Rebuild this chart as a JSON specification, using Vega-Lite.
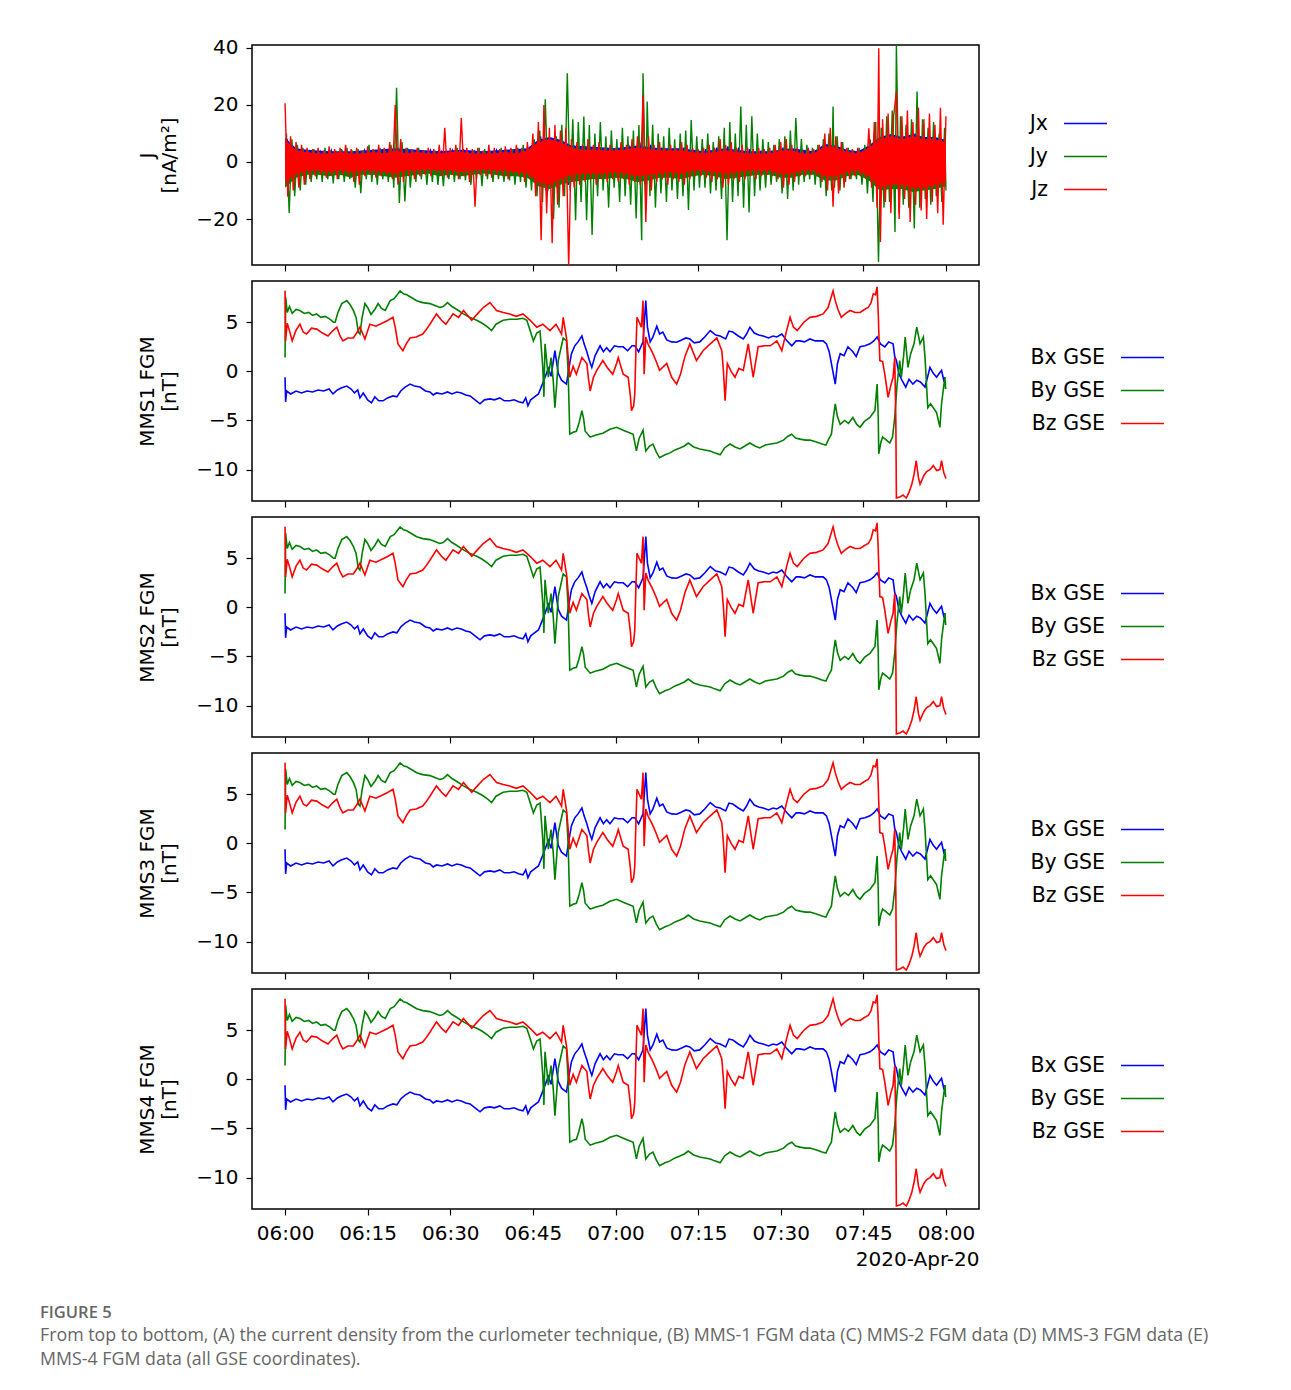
{
"$schema": "https://vega.github.io/schema/vega-lite/v6.json",
"background": "white",
"padding": {"left": 40, "top": 37, "right": 10, "bottom": 10},
"config": {
  "view": {"stroke": "#000", "strokeWidth": 1.5},
  "font": "DejaVu Sans",
  "axis": {"domain": false, "grid": false, "tickColor": "#000", "tickSize": 6, "tickWidth": 1.2, "labelFont": "DejaVu Sans", "labelFontSize": 20, "labelColor": "#000", "labelPadding": 8, "titleFont": "DejaVu Sans", "titleFontSize": 20, "titleFontWeight": "normal", "titleColor": "#000", "titlePadding": 16},
  "legend": {"labelFont": "DejaVu Sans", "labelFontSize": 20.5, "labelColor": "#000", "symbolType": "stroke", "symbolSize": 1849, "symbolStrokeWidth": 1.5, "labelAlign": "right", "labelOffset": -60, "rowPadding": -11},
  "concat": {"spacing": 7}
},
"title": {"text": "FIGURE 5", "subtitle": ["From top to bottom, (A) the current density from the curlometer technique, (B) MMS-1 FGM data (C) MMS-2 FGM data (D) MMS-3 FGM data (E)", "MMS-4 FGM data (all GSE coordinates)."], "orient": "bottom", "anchor": "start", "dx": -97, "offset": 35, "font": "Open Sans", "fontSize": 16.5, "fontWeight": 600, "color": "#666", "subtitleFont": "Open Sans", "subtitleFontSize": 17.8, "subtitleColor": "#666", "subtitleLineHeight": 24, "subtitlePadding": 6},
"resolve": {"scale": {"color": "independent"}, "legend": {"color": "independent"}},
"datasets": {
"curlband": [
{"t":0,"c":"Jx","lo":-5,"hi":8.5},{"t":2,"c":"Jx","lo":-2.5,"hi":4.8},{"t":4,"c":"Jx","lo":-2,"hi":4.3},{"t":8,"c":"Jx","lo":-2,"hi":3.8},{"t":12,"c":"Jx","lo":-2,"hi":3.8},{"t":16,"c":"Jx","lo":-2,"hi":4.3},{"t":20,"c":"Jx","lo":-2.5,"hi":4.8},{"t":24,"c":"Jx","lo":-2,"hi":4.3},{"t":28,"c":"Jx","lo":-2,"hi":3.8},{"t":32,"c":"Jx","lo":-2,"hi":4.3},{"t":36,"c":"Jx","lo":-2,"hi":3.8},{"t":40,"c":"Jx","lo":-2,"hi":4.3},{"t":44,"c":"Jx","lo":-2.5,"hi":4.8},{"t":46,"c":"Jx","lo":-5,"hi":7.8},{"t":48,"c":"Jx","lo":-6,"hi":8.8},{"t":50,"c":"Jx","lo":-5,"hi":7.8},{"t":52,"c":"Jx","lo":-3,"hi":5.8},{"t":56,"c":"Jx","lo":-3,"hi":5.3},{"t":60,"c":"Jx","lo":-2.5,"hi":4.8},{"t":64,"c":"Jx","lo":-3,"hi":5.8},{"t":68,"c":"Jx","lo":-2.5,"hi":4.8},{"t":72,"c":"Jx","lo":-2.5,"hi":4.8},{"t":76,"c":"Jx","lo":-2,"hi":3.8},{"t":80,"c":"Jx","lo":-2.5,"hi":4.8},{"t":84,"c":"Jx","lo":-2,"hi":3.8},{"t":88,"c":"Jx","lo":-2,"hi":3.8},{"t":92,"c":"Jx","lo":-2.5,"hi":4.8},{"t":96,"c":"Jx","lo":-2,"hi":3.8},{"t":98,"c":"Jx","lo":-3.5,"hi":6.3},{"t":100,"c":"Jx","lo":-3.5,"hi":5.8},{"t":102,"c":"Jx","lo":-2,"hi":4.3},{"t":104,"c":"Jx","lo":-2,"hi":3.8},{"t":106,"c":"Jx","lo":-3.5,"hi":5.8},{"t":108,"c":"Jx","lo":-6,"hi":8.8},{"t":110,"c":"Jx","lo":-6,"hi":9.8},{"t":112,"c":"Jx","lo":-6,"hi":8.8},{"t":114,"c":"Jx","lo":-6,"hi":9.8},{"t":116,"c":"Jx","lo":-6,"hi":8.8},{"t":118,"c":"Jx","lo":-6,"hi":8.8},{"t":120,"c":"Jx","lo":-5,"hi":7.8},
{"t":0,"c":"Jy","lo":-9,"hi":7},{"t":2,"c":"Jy","lo":-5.5,"hi":3},{"t":4,"c":"Jy","lo":-4.5,"hi":2.5},{"t":6,"c":"Jy","lo":-4.5,"hi":2},{"t":8,"c":"Jy","lo":-5,"hi":2},{"t":10,"c":"Jy","lo":-4.5,"hi":2.5},{"t":12,"c":"Jy","lo":-5.5,"hi":2},{"t":14,"c":"Jy","lo":-4.5,"hi":2},{"t":16,"c":"Jy","lo":-4.5,"hi":2.5},{"t":18,"c":"Jy","lo":-5,"hi":2},{"t":20,"c":"Jy","lo":-5.5,"hi":3},{"t":22,"c":"Jy","lo":-5,"hi":2},{"t":24,"c":"Jy","lo":-4.5,"hi":2.5},{"t":26,"c":"Jy","lo":-4,"hi":2},{"t":28,"c":"Jy","lo":-5,"hi":2},{"t":30,"c":"Jy","lo":-4.5,"hi":2.5},{"t":32,"c":"Jy","lo":-5,"hi":2.5},{"t":34,"c":"Jy","lo":-4.5,"hi":2},{"t":36,"c":"Jy","lo":-4,"hi":2},{"t":38,"c":"Jy","lo":-4.5,"hi":2},{"t":40,"c":"Jy","lo":-5,"hi":2.5},{"t":42,"c":"Jy","lo":-5,"hi":2},{"t":44,"c":"Jy","lo":-5.5,"hi":3},{"t":46,"c":"Jy","lo":-8.5,"hi":6},{"t":48,"c":"Jy","lo":-9.5,"hi":7},{"t":50,"c":"Jy","lo":-8,"hi":6.5},{"t":52,"c":"Jy","lo":-7,"hi":5},{"t":54,"c":"Jy","lo":-6.5,"hi":4.5},{"t":56,"c":"Jy","lo":-6,"hi":4},{"t":58,"c":"Jy","lo":-6,"hi":3.5},{"t":60,"c":"Jy","lo":-5.5,"hi":3.5},{"t":62,"c":"Jy","lo":-6,"hi":4},{"t":64,"c":"Jy","lo":-7,"hi":4.5},{"t":66,"c":"Jy","lo":-6.5,"hi":4},{"t":68,"c":"Jy","lo":-5.5,"hi":3.5},{"t":70,"c":"Jy","lo":-5.5,"hi":3},{"t":72,"c":"Jy","lo":-6,"hi":3.5},{"t":74,"c":"Jy","lo":-5,"hi":3},{"t":76,"c":"Jy","lo":-4.5,"hi":2.5},{"t":78,"c":"Jy","lo":-5,"hi":3},{"t":80,"c":"Jy","lo":-6,"hi":3.5},{"t":82,"c":"Jy","lo":-5.5,"hi":3},{"t":84,"c":"Jy","lo":-5,"hi":2.5},{"t":86,"c":"Jy","lo":-4.5,"hi":2.5},{"t":88,"c":"Jy","lo":-4.5,"hi":2},{"t":90,"c":"Jy","lo":-5.5,"hi":3},{"t":92,"c":"Jy","lo":-5.5,"hi":3},{"t":94,"c":"Jy","lo":-4.5,"hi":2},{"t":96,"c":"Jy","lo":-4.5,"hi":2.5},{"t":98,"c":"Jy","lo":-6.5,"hi":4.5},{"t":100,"c":"Jy","lo":-6.5,"hi":4},{"t":102,"c":"Jy","lo":-5,"hi":2.5},{"t":104,"c":"Jy","lo":-4.5,"hi":2},{"t":106,"c":"Jy","lo":-6.5,"hi":4},{"t":108,"c":"Jy","lo":-10,"hi":7},{"t":110,"c":"Jy","lo":-9.5,"hi":8},{"t":112,"c":"Jy","lo":-9.5,"hi":7},{"t":114,"c":"Jy","lo":-10.5,"hi":8},{"t":116,"c":"Jy","lo":-10,"hi":7},{"t":118,"c":"Jy","lo":-9.5,"hi":7},{"t":120,"c":"Jy","lo":-8.5,"hi":6},
{"t":0,"c":"Jz","lo":-7,"hi":8},{"t":2,"c":"Jz","lo":-4,"hi":4},{"t":4,"c":"Jz","lo":-3,"hi":3.5},{"t":6,"c":"Jz","lo":-3,"hi":3},{"t":8,"c":"Jz","lo":-3.5,"hi":3},{"t":10,"c":"Jz","lo":-3,"hi":3.5},{"t":12,"c":"Jz","lo":-3.5,"hi":3},{"t":14,"c":"Jz","lo":-3,"hi":3},{"t":16,"c":"Jz","lo":-3,"hi":3.5},{"t":18,"c":"Jz","lo":-3.5,"hi":3},{"t":20,"c":"Jz","lo":-4,"hi":4},{"t":22,"c":"Jz","lo":-3,"hi":3},{"t":24,"c":"Jz","lo":-3,"hi":3.5},{"t":26,"c":"Jz","lo":-2.5,"hi":3},{"t":28,"c":"Jz","lo":-3,"hi":3},{"t":30,"c":"Jz","lo":-3,"hi":3.5},{"t":32,"c":"Jz","lo":-3.5,"hi":3.5},{"t":34,"c":"Jz","lo":-3,"hi":3},{"t":36,"c":"Jz","lo":-2.5,"hi":3},{"t":38,"c":"Jz","lo":-3,"hi":3},{"t":40,"c":"Jz","lo":-3,"hi":3.5},{"t":42,"c":"Jz","lo":-3.5,"hi":3},{"t":44,"c":"Jz","lo":-4,"hi":4},{"t":46,"c":"Jz","lo":-7,"hi":7},{"t":48,"c":"Jz","lo":-8,"hi":8},{"t":50,"c":"Jz","lo":-6,"hi":7},{"t":52,"c":"Jz","lo":-4.5,"hi":5},{"t":54,"c":"Jz","lo":-4,"hi":4},{"t":56,"c":"Jz","lo":-4,"hi":4.5},{"t":58,"c":"Jz","lo":-4,"hi":4},{"t":60,"c":"Jz","lo":-3.5,"hi":4},{"t":62,"c":"Jz","lo":-4,"hi":4.5},{"t":64,"c":"Jz","lo":-5,"hi":5},{"t":66,"c":"Jz","lo":-4.5,"hi":4.5},{"t":68,"c":"Jz","lo":-4,"hi":4},{"t":70,"c":"Jz","lo":-3.5,"hi":4},{"t":72,"c":"Jz","lo":-4,"hi":4},{"t":74,"c":"Jz","lo":-3,"hi":3.5},{"t":76,"c":"Jz","lo":-3,"hi":3},{"t":78,"c":"Jz","lo":-3.5,"hi":3.5},{"t":80,"c":"Jz","lo":-4,"hi":4},{"t":82,"c":"Jz","lo":-3.5,"hi":3.5},{"t":84,"c":"Jz","lo":-3,"hi":3},{"t":86,"c":"Jz","lo":-3,"hi":3},{"t":88,"c":"Jz","lo":-3,"hi":3},{"t":90,"c":"Jz","lo":-4,"hi":4},{"t":92,"c":"Jz","lo":-4,"hi":4},{"t":94,"c":"Jz","lo":-3,"hi":3},{"t":96,"c":"Jz","lo":-3,"hi":3},{"t":98,"c":"Jz","lo":-5,"hi":5.5},{"t":100,"c":"Jz","lo":-5,"hi":5},{"t":102,"c":"Jz","lo":-3.5,"hi":3.5},{"t":104,"c":"Jz","lo":-3,"hi":3},{"t":106,"c":"Jz","lo":-5,"hi":5},{"t":108,"c":"Jz","lo":-9,"hi":8},{"t":110,"c":"Jz","lo":-8,"hi":9},{"t":112,"c":"Jz","lo":-8,"hi":8},{"t":114,"c":"Jz","lo":-9,"hi":9},{"t":116,"c":"Jz","lo":-9,"hi":8},{"t":118,"c":"Jz","lo":-8,"hi":8},{"t":120,"c":"Jz","lo":-7,"hi":7}
],
"curl": [
{"t":0.4,"c":"Jx","v":8},{"t":1.4,"c":"Jx","v":-6},{"t":2.4,"c":"Jx","v":4},{"t":3.4,"c":"Jx","v":-4},{"t":4.4,"c":"Jx","v":3.5},{"t":5.4,"c":"Jx","v":-3},{"t":6.4,"c":"Jx","v":3.5},{"t":7.4,"c":"Jx","v":-3.5},{"t":8.4,"c":"Jx","v":4},{"t":9.4,"c":"Jx","v":-3},{"t":10.4,"c":"Jx","v":3.5},{"t":11.4,"c":"Jx","v":-4},{"t":12.4,"c":"Jx","v":3},{"t":13.4,"c":"Jx","v":-3.5},{"t":14.4,"c":"Jx","v":4},{"t":15.4,"c":"Jx","v":-3},{"t":16.4,"c":"Jx","v":3.5},{"t":17.4,"c":"Jx","v":-3.5},{"t":18.4,"c":"Jx","v":4.5},{"t":19.4,"c":"Jx","v":-4},{"t":20.4,"c":"Jx","v":5},{"t":21.4,"c":"Jx","v":-5},{"t":22.4,"c":"Jx","v":4},{"t":23.4,"c":"Jx","v":-3.5},{"t":24.4,"c":"Jx","v":3.5},{"t":25.4,"c":"Jx","v":-3},{"t":26.4,"c":"Jx","v":4},{"t":27.4,"c":"Jx","v":-3.5},{"t":28.4,"c":"Jx","v":3.5},{"t":29.4,"c":"Jx","v":-3},{"t":30.4,"c":"Jx","v":4},{"t":31.4,"c":"Jx","v":-4},{"t":32.4,"c":"Jx","v":4.5},{"t":33.4,"c":"Jx","v":-3.5},{"t":34.4,"c":"Jx","v":3.5},{"t":35.4,"c":"Jx","v":-4},{"t":36.4,"c":"Jx","v":3},{"t":37.4,"c":"Jx","v":-3.5},{"t":38.4,"c":"Jx","v":4},{"t":39.4,"c":"Jx","v":-3},{"t":40.4,"c":"Jx","v":3.5},{"t":41.4,"c":"Jx","v":-4},{"t":42.4,"c":"Jx","v":4},{"t":43.4,"c":"Jx","v":-4.5},{"t":44.4,"c":"Jx","v":5},{"t":45.4,"c":"Jx","v":-7},{"t":46.4,"c":"Jx","v":9},{"t":47.4,"c":"Jx","v":-10},{"t":48.4,"c":"Jx","v":8},{"t":49.4,"c":"Jx","v":-9},{"t":50.4,"c":"Jx","v":7},{"t":51.4,"c":"Jx","v":-8},{"t":52.4,"c":"Jx","v":6},{"t":53.4,"c":"Jx","v":-6},{"t":54.4,"c":"Jx","v":5.5},{"t":55.4,"c":"Jx","v":-5},{"t":56.4,"c":"Jx","v":5},{"t":57.4,"c":"Jx","v":-5.5},{"t":58.4,"c":"Jx","v":5},{"t":59.4,"c":"Jx","v":-4.5},{"t":60.4,"c":"Jx","v":5},{"t":61.4,"c":"Jx","v":-5},{"t":62.4,"c":"Jx","v":6},{"t":63.4,"c":"Jx","v":-5},{"t":64.4,"c":"Jx","v":7},{"t":65.4,"c":"Jx","v":-8},{"t":66.4,"c":"Jx","v":6},{"t":67.4,"c":"Jx","v":-5},{"t":68.4,"c":"Jx","v":5},{"t":69.4,"c":"Jx","v":-4.5},{"t":70.4,"c":"Jx","v":4.5},{"t":71.4,"c":"Jx","v":-5},{"t":72.4,"c":"Jx","v":5},{"t":73.4,"c":"Jx","v":-4.5},{"t":74.4,"c":"Jx","v":4},{"t":75.4,"c":"Jx","v":-4},{"t":76.4,"c":"Jx","v":4.5},{"t":77.4,"c":"Jx","v":-4.5},{"t":78.4,"c":"Jx","v":5},{"t":79.4,"c":"Jx","v":-5},{"t":80.4,"c":"Jx","v":5.5},{"t":81.4,"c":"Jx","v":-4.5},{"t":82.4,"c":"Jx","v":5},{"t":83.4,"c":"Jx","v":-4},{"t":84.4,"c":"Jx","v":4.5},{"t":85.4,"c":"Jx","v":-4},{"t":86.4,"c":"Jx","v":4},{"t":87.4,"c":"Jx","v":-3.5},{"t":88.4,"c":"Jx","v":4},{"t":89.4,"c":"Jx","v":-4},{"t":90.4,"c":"Jx","v":5},{"t":91.4,"c":"Jx","v":-5},{"t":92.4,"c":"Jx","v":4.5},{"t":93.4,"c":"Jx","v":-4},{"t":94.4,"c":"Jx","v":3.5},{"t":95.4,"c":"Jx","v":-3.5},{"t":96.4,"c":"Jx","v":4},{"t":97.4,"c":"Jx","v":-4.5},{"t":98.4,"c":"Jx","v":6},{"t":99.4,"c":"Jx","v":-6},{"t":100.4,"c":"Jx","v":5},{"t":101.4,"c":"Jx","v":-5},{"t":102.4,"c":"Jx","v":4},{"t":103.4,"c":"Jx","v":-3.5},{"t":104.4,"c":"Jx","v":4},{"t":105.4,"c":"Jx","v":-4},{"t":106.4,"c":"Jx","v":6},{"t":107.4,"c":"Jx","v":-8},{"t":108.4,"c":"Jx","v":10},{"t":109.4,"c":"Jx","v":-9},{"t":110.4,"c":"Jx","v":8},{"t":111.4,"c":"Jx","v":-10},{"t":112.4,"c":"Jx","v":9},{"t":113.4,"c":"Jx","v":-8},{"t":114.4,"c":"Jx","v":10},{"t":115.4,"c":"Jx","v":-9},{"t":116.4,"c":"Jx","v":8},{"t":117.4,"c":"Jx","v":-9},{"t":118.4,"c":"Jx","v":7},{"t":119.4,"c":"Jx","v":-8},{"t":119.9,"c":"Jx","v":5},
{"t":0.25,"c":"Jy","v":10},{"t":0.75,"c":"Jy","v":-17.9},{"t":1.25,"c":"Jy","v":8},{"t":1.75,"c":"Jy","v":-12},{"t":2.25,"c":"Jy","v":6},{"t":2.75,"c":"Jy","v":-10},{"t":3.25,"c":"Jy","v":5},{"t":3.75,"c":"Jy","v":-8},{"t":4.25,"c":"Jy","v":4},{"t":4.75,"c":"Jy","v":-7},{"t":5.25,"c":"Jy","v":4.5},{"t":5.75,"c":"Jy","v":-6},{"t":6.25,"c":"Jy","v":3.5},{"t":6.75,"c":"Jy","v":-7},{"t":7.25,"c":"Jy","v":5},{"t":7.75,"c":"Jy","v":-6},{"t":8.25,"c":"Jy","v":4},{"t":8.75,"c":"Jy","v":-7.5},{"t":9.25,"c":"Jy","v":4},{"t":9.75,"c":"Jy","v":-6},{"t":10.25,"c":"Jy","v":4.5},{"t":10.75,"c":"Jy","v":-7},{"t":11.25,"c":"Jy","v":5},{"t":11.75,"c":"Jy","v":-6},{"t":12.25,"c":"Jy","v":4},{"t":12.75,"c":"Jy","v":-9},{"t":13.25,"c":"Jy","v":4.5},{"t":13.75,"c":"Jy","v":-10.9},{"t":14.25,"c":"Jy","v":4},{"t":14.75,"c":"Jy","v":-6},{"t":15.25,"c":"Jy","v":6},{"t":15.75,"c":"Jy","v":-7},{"t":16.25,"c":"Jy","v":4},{"t":16.75,"c":"Jy","v":-8},{"t":17.25,"c":"Jy","v":5},{"t":17.75,"c":"Jy","v":-6},{"t":18.25,"c":"Jy","v":4},{"t":18.75,"c":"Jy","v":-7},{"t":19.25,"c":"Jy","v":6},{"t":19.75,"c":"Jy","v":-9},{"t":20.25,"c":"Jy","v":26},{"t":20.75,"c":"Jy","v":-14.4},{"t":21.25,"c":"Jy","v":7},{"t":21.75,"c":"Jy","v":-13.8},{"t":22.25,"c":"Jy","v":5},{"t":22.75,"c":"Jy","v":-9},{"t":23.25,"c":"Jy","v":4},{"t":23.75,"c":"Jy","v":-7},{"t":24.25,"c":"Jy","v":5},{"t":24.75,"c":"Jy","v":-6},{"t":25.25,"c":"Jy","v":4},{"t":25.75,"c":"Jy","v":-8},{"t":26.25,"c":"Jy","v":3.5},{"t":26.75,"c":"Jy","v":-7},{"t":27.25,"c":"Jy","v":4},{"t":27.75,"c":"Jy","v":-8},{"t":28.25,"c":"Jy","v":3},{"t":28.75,"c":"Jy","v":-8.5},{"t":29.25,"c":"Jy","v":4},{"t":29.75,"c":"Jy","v":-6},{"t":30.25,"c":"Jy","v":3.5},{"t":30.75,"c":"Jy","v":-7},{"t":31.25,"c":"Jy","v":5},{"t":31.75,"c":"Jy","v":-6},{"t":32.25,"c":"Jy","v":4.5},{"t":32.75,"c":"Jy","v":-6.5},{"t":33.25,"c":"Jy","v":3.5},{"t":33.75,"c":"Jy","v":-8},{"t":34.25,"c":"Jy","v":4},{"t":34.75,"c":"Jy","v":-6},{"t":35.25,"c":"Jy","v":5},{"t":35.75,"c":"Jy","v":-8.5},{"t":36.25,"c":"Jy","v":4.5},{"t":36.75,"c":"Jy","v":-6},{"t":37.25,"c":"Jy","v":4},{"t":37.75,"c":"Jy","v":-7},{"t":38.25,"c":"Jy","v":3.5},{"t":38.75,"c":"Jy","v":-6},{"t":39.25,"c":"Jy","v":5},{"t":39.75,"c":"Jy","v":-7},{"t":40.25,"c":"Jy","v":4},{"t":40.75,"c":"Jy","v":-6.5},{"t":41.25,"c":"Jy","v":4.5},{"t":41.75,"c":"Jy","v":-8},{"t":42.25,"c":"Jy","v":5},{"t":42.75,"c":"Jy","v":-7},{"t":43.25,"c":"Jy","v":6},{"t":43.75,"c":"Jy","v":-9},{"t":44.25,"c":"Jy","v":5},{"t":44.75,"c":"Jy","v":-10},{"t":45.25,"c":"Jy","v":8},{"t":45.75,"c":"Jy","v":-12},{"t":46.25,"c":"Jy","v":11},{"t":46.75,"c":"Jy","v":-14},{"t":47.25,"c":"Jy","v":22},{"t":47.75,"c":"Jy","v":-10},{"t":48.25,"c":"Jy","v":8},{"t":48.75,"c":"Jy","v":-20},{"t":49.25,"c":"Jy","v":9},{"t":49.75,"c":"Jy","v":-16},{"t":50.25,"c":"Jy","v":13},{"t":50.75,"c":"Jy","v":-12},{"t":51.25,"c":"Jy","v":31.1},{"t":51.75,"c":"Jy","v":-10},{"t":52.25,"c":"Jy","v":15},{"t":52.75,"c":"Jy","v":-20.4},{"t":53.25,"c":"Jy","v":14},{"t":53.75,"c":"Jy","v":-14},{"t":54.25,"c":"Jy","v":15.9},{"t":54.75,"c":"Jy","v":-20.4},{"t":55.25,"c":"Jy","v":13},{"t":55.75,"c":"Jy","v":-25.6},{"t":56.25,"c":"Jy","v":10},{"t":56.75,"c":"Jy","v":-12},{"t":57.25,"c":"Jy","v":14},{"t":57.75,"c":"Jy","v":-10},{"t":58.25,"c":"Jy","v":9},{"t":58.75,"c":"Jy","v":-16},{"t":59.25,"c":"Jy","v":11},{"t":59.75,"c":"Jy","v":-9},{"t":60.25,"c":"Jy","v":8},{"t":60.75,"c":"Jy","v":-14},{"t":61.25,"c":"Jy","v":12},{"t":61.75,"c":"Jy","v":-12},{"t":62.25,"c":"Jy","v":9},{"t":62.75,"c":"Jy","v":-15},{"t":63.25,"c":"Jy","v":11},{"t":63.75,"c":"Jy","v":-19.8},{"t":64.25,"c":"Jy","v":13},{"t":64.75,"c":"Jy","v":-27.4},{"t":65.0,"c":"Jy","v":31.1},{"t":65.5,"c":"Jy","v":-15},{"t":65.75,"c":"Jy","v":21.2},{"t":66.25,"c":"Jy","v":-12},{"t":66.75,"c":"Jy","v":13},{"t":67.25,"c":"Jy","v":-16},{"t":67.75,"c":"Jy","v":10},{"t":68.25,"c":"Jy","v":-11},{"t":68.75,"c":"Jy","v":9},{"t":69.25,"c":"Jy","v":-14},{"t":69.75,"c":"Jy","v":12},{"t":70.25,"c":"Jy","v":-10},{"t":70.75,"c":"Jy","v":8},{"t":71.25,"c":"Jy","v":-13},{"t":71.75,"c":"Jy","v":10},{"t":72.25,"c":"Jy","v":-12},{"t":72.75,"c":"Jy","v":11},{"t":73.25,"c":"Jy","v":-16.8},{"t":73.75,"c":"Jy","v":14.7},{"t":74.25,"c":"Jy","v":-10},{"t":74.75,"c":"Jy","v":9},{"t":75.25,"c":"Jy","v":-9},{"t":75.75,"c":"Jy","v":8},{"t":76.25,"c":"Jy","v":-9},{"t":76.75,"c":"Jy","v":10},{"t":77.25,"c":"Jy","v":-11},{"t":77.75,"c":"Jy","v":7},{"t":78.25,"c":"Jy","v":-10},{"t":78.75,"c":"Jy","v":9},{"t":79.25,"c":"Jy","v":-13},{"t":79.75,"c":"Jy","v":12},{"t":80.25,"c":"Jy","v":-27.4},{"t":80.75,"c":"Jy","v":14},{"t":81.25,"c":"Jy","v":-14},{"t":81.75,"c":"Jy","v":10},{"t":82.25,"c":"Jy","v":-12},{"t":82.75,"c":"Jy","v":19.4},{"t":83.25,"c":"Jy","v":-16},{"t":83.75,"c":"Jy","v":13},{"t":84.25,"c":"Jy","v":-17.7},{"t":84.75,"c":"Jy","v":16},{"t":85.25,"c":"Jy","v":-12},{"t":85.75,"c":"Jy","v":10},{"t":86.25,"c":"Jy","v":-10},{"t":86.75,"c":"Jy","v":8},{"t":87.25,"c":"Jy","v":-9},{"t":87.75,"c":"Jy","v":7},{"t":88.25,"c":"Jy","v":-8},{"t":88.75,"c":"Jy","v":6},{"t":89.25,"c":"Jy","v":-7},{"t":89.75,"c":"Jy","v":8},{"t":90.25,"c":"Jy","v":-11},{"t":90.75,"c":"Jy","v":9},{"t":91.25,"c":"Jy","v":-13},{"t":91.75,"c":"Jy","v":11},{"t":92.25,"c":"Jy","v":-10},{"t":92.75,"c":"Jy","v":15.4},{"t":93.25,"c":"Jy","v":-8},{"t":93.75,"c":"Jy","v":8},{"t":94.25,"c":"Jy","v":-7},{"t":94.75,"c":"Jy","v":6},{"t":95.25,"c":"Jy","v":-6},{"t":95.75,"c":"Jy","v":5},{"t":96.25,"c":"Jy","v":-8},{"t":96.75,"c":"Jy","v":6},{"t":97.25,"c":"Jy","v":-9},{"t":97.75,"c":"Jy","v":8},{"t":98.25,"c":"Jy","v":-12},{"t":98.75,"c":"Jy","v":10},{"t":99.25,"c":"Jy","v":-10},{"t":99.5,"c":"Jy","v":19.4},{"t":99.75,"c":"Jy","v":-9},{"t":100.25,"c":"Jy","v":9},{"t":100.75,"c":"Jy","v":-10},{"t":101.25,"c":"Jy","v":7},{"t":101.75,"c":"Jy","v":-7},{"t":102.25,"c":"Jy","v":5},{"t":102.75,"c":"Jy","v":-6},{"t":103.25,"c":"Jy","v":4},{"t":103.75,"c":"Jy","v":-6},{"t":104.25,"c":"Jy","v":5},{"t":104.75,"c":"Jy","v":-8},{"t":105.25,"c":"Jy","v":6},{"t":105.75,"c":"Jy","v":-11},{"t":106.25,"c":"Jy","v":8},{"t":106.75,"c":"Jy","v":-14},{"t":107.25,"c":"Jy","v":14},{"t":107.75,"c":"Jy","v":-35},{"t":108.25,"c":"Jy","v":12},{"t":108.75,"c":"Jy","v":-16},{"t":109.25,"c":"Jy","v":16},{"t":109.75,"c":"Jy","v":-14},{"t":110.25,"c":"Jy","v":18},{"t":110.75,"c":"Jy","v":-24.5},{"t":111.0,"c":"Jy","v":41},{"t":111.5,"c":"Jy","v":-18},{"t":111.75,"c":"Jy","v":16},{"t":112.25,"c":"Jy","v":-15},{"t":112.75,"c":"Jy","v":13},{"t":113.25,"c":"Jy","v":-16},{"t":113.75,"c":"Jy","v":15},{"t":114.25,"c":"Jy","v":-23.3},{"t":114.75,"c":"Jy","v":24.7},{"t":115.25,"c":"Jy","v":-16},{"t":115.75,"c":"Jy","v":15},{"t":116.25,"c":"Jy","v":-13},{"t":116.75,"c":"Jy","v":12},{"t":117.25,"c":"Jy","v":-15},{"t":117.75,"c":"Jy","v":14},{"t":118.25,"c":"Jy","v":-12},{"t":118.75,"c":"Jy","v":10},{"t":119.25,"c":"Jy","v":-14},{"t":119.75,"c":"Jy","v":12},{"t":120,"c":"Jy","v":-10},
{"t":0,"c":"Jz","v":20.6},{"t":0.5,"c":"Jz","v":-12.2},{"t":1,"c":"Jz","v":9},{"t":1.5,"c":"Jz","v":-10},{"t":2,"c":"Jz","v":7},{"t":2.5,"c":"Jz","v":-9},{"t":3,"c":"Jz","v":6},{"t":3.5,"c":"Jz","v":-8},{"t":4,"c":"Jz","v":5},{"t":4.5,"c":"Jz","v":-6},{"t":5,"c":"Jz","v":4.5},{"t":5.5,"c":"Jz","v":-5},{"t":6,"c":"Jz","v":5},{"t":6.5,"c":"Jz","v":-4.5},{"t":7,"c":"Jz","v":4},{"t":7.5,"c":"Jz","v":-5.5},{"t":8,"c":"Jz","v":5.5},{"t":8.5,"c":"Jz","v":-5},{"t":9,"c":"Jz","v":4.5},{"t":9.5,"c":"Jz","v":-6},{"t":10,"c":"Jz","v":5},{"t":10.5,"c":"Jz","v":-4.5},{"t":11,"c":"Jz","v":6},{"t":11.5,"c":"Jz","v":-5},{"t":12,"c":"Jz","v":4.5},{"t":12.5,"c":"Jz","v":-7},{"t":13,"c":"Jz","v":5},{"t":13.5,"c":"Jz","v":-8},{"t":14,"c":"Jz","v":4},{"t":14.5,"c":"Jz","v":-5},{"t":15,"c":"Jz","v":5.5},{"t":15.5,"c":"Jz","v":-4.5},{"t":16,"c":"Jz","v":4.5},{"t":16.5,"c":"Jz","v":-5.5},{"t":17,"c":"Jz","v":6},{"t":17.5,"c":"Jz","v":-5},{"t":18,"c":"Jz","v":5},{"t":18.5,"c":"Jz","v":-4.5},{"t":19,"c":"Jz","v":7},{"t":19.5,"c":"Jz","v":-6},{"t":20,"c":"Jz","v":20},{"t":20.5,"c":"Jz","v":-8},{"t":21,"c":"Jz","v":8},{"t":21.5,"c":"Jz","v":-7},{"t":22,"c":"Jz","v":5},{"t":22.5,"c":"Jz","v":-5},{"t":23,"c":"Jz","v":4.5},{"t":23.5,"c":"Jz","v":-6},{"t":24,"c":"Jz","v":5},{"t":24.5,"c":"Jz","v":-5},{"t":25,"c":"Jz","v":4},{"t":25.5,"c":"Jz","v":-4.5},{"t":26,"c":"Jz","v":5},{"t":26.5,"c":"Jz","v":-5},{"t":27,"c":"Jz","v":4.5},{"t":27.5,"c":"Jz","v":-4},{"t":28,"c":"Jz","v":6},{"t":28.5,"c":"Jz","v":-5},{"t":29,"c":"Jz","v":12},{"t":29.5,"c":"Jz","v":-5.5},{"t":30,"c":"Jz","v":5},{"t":30.5,"c":"Jz","v":-4.5},{"t":31,"c":"Jz","v":6},{"t":31.5,"c":"Jz","v":-6},{"t":32,"c":"Jz","v":15.4},{"t":32.5,"c":"Jz","v":-5},{"t":33,"c":"Jz","v":5},{"t":33.5,"c":"Jz","v":-7},{"t":34,"c":"Jz","v":4.5},{"t":34.5,"c":"Jz","v":-15.7},{"t":35,"c":"Jz","v":5},{"t":35.5,"c":"Jz","v":-4.5},{"t":36,"c":"Jz","v":4},{"t":36.5,"c":"Jz","v":-5},{"t":37,"c":"Jz","v":6},{"t":37.5,"c":"Jz","v":-5.5},{"t":38,"c":"Jz","v":5},{"t":38.5,"c":"Jz","v":-4.5},{"t":39,"c":"Jz","v":4.5},{"t":39.5,"c":"Jz","v":-5},{"t":40,"c":"Jz","v":5.5},{"t":40.5,"c":"Jz","v":-6},{"t":41,"c":"Jz","v":5},{"t":41.5,"c":"Jz","v":-4.5},{"t":42,"c":"Jz","v":6},{"t":42.5,"c":"Jz","v":-5},{"t":43,"c":"Jz","v":5},{"t":43.5,"c":"Jz","v":-7},{"t":44,"c":"Jz","v":7},{"t":44.5,"c":"Jz","v":-6},{"t":45,"c":"Jz","v":10},{"t":45.5,"c":"Jz","v":-12},{"t":46,"c":"Jz","v":14},{"t":46.5,"c":"Jz","v":-27.4},{"t":47,"c":"Jz","v":20},{"t":47.5,"c":"Jz","v":-18},{"t":48,"c":"Jz","v":12},{"t":48.5,"c":"Jz","v":-28.5},{"t":49,"c":"Jz","v":13},{"t":49.5,"c":"Jz","v":-15},{"t":50,"c":"Jz","v":11},{"t":50.5,"c":"Jz","v":-12},{"t":51,"c":"Jz","v":12},{"t":51.5,"c":"Jz","v":-37},{"t":52,"c":"Jz","v":8},{"t":52.5,"c":"Jz","v":-9},{"t":53,"c":"Jz","v":7},{"t":53.5,"c":"Jz","v":-8},{"t":54,"c":"Jz","v":6},{"t":54.5,"c":"Jz","v":-7},{"t":55,"c":"Jz","v":8},{"t":55.5,"c":"Jz","v":-6},{"t":56,"c":"Jz","v":6},{"t":56.5,"c":"Jz","v":-8},{"t":57,"c":"Jz","v":7},{"t":57.5,"c":"Jz","v":-6},{"t":58,"c":"Jz","v":5},{"t":58.5,"c":"Jz","v":-7},{"t":59,"c":"Jz","v":6},{"t":59.5,"c":"Jz","v":-6},{"t":60,"c":"Jz","v":5},{"t":60.5,"c":"Jz","v":-7},{"t":61,"c":"Jz","v":7},{"t":61.5,"c":"Jz","v":-6},{"t":62,"c":"Jz","v":6},{"t":62.5,"c":"Jz","v":-8},{"t":63,"c":"Jz","v":8},{"t":63.5,"c":"Jz","v":-7},{"t":64,"c":"Jz","v":9},{"t":64.5,"c":"Jz","v":-8},{"t":65,"c":"Jz","v":23.5},{"t":65.5,"c":"Jz","v":-21},{"t":66,"c":"Jz","v":9},{"t":66.5,"c":"Jz","v":-10},{"t":67,"c":"Jz","v":6},{"t":67.5,"c":"Jz","v":-7},{"t":68,"c":"Jz","v":7},{"t":68.5,"c":"Jz","v":-6},{"t":69,"c":"Jz","v":5},{"t":69.5,"c":"Jz","v":-8},{"t":70,"c":"Jz","v":6},{"t":70.5,"c":"Jz","v":-6},{"t":71,"c":"Jz","v":5},{"t":71.5,"c":"Jz","v":-7},{"t":72,"c":"Jz","v":7},{"t":72.5,"c":"Jz","v":-8},{"t":73,"c":"Jz","v":6},{"t":73.5,"c":"Jz","v":-6},{"t":74,"c":"Jz","v":5},{"t":74.5,"c":"Jz","v":-5},{"t":75,"c":"Jz","v":4.5},{"t":75.5,"c":"Jz","v":-5},{"t":76,"c":"Jz","v":5},{"t":76.5,"c":"Jz","v":-5.5},{"t":77,"c":"Jz","v":6},{"t":77.5,"c":"Jz","v":-7},{"t":78,"c":"Jz","v":5},{"t":78.5,"c":"Jz","v":-6},{"t":79,"c":"Jz","v":8},{"t":79.5,"c":"Jz","v":-9},{"t":80,"c":"Jz","v":6},{"t":80.5,"c":"Jz","v":-8},{"t":81,"c":"Jz","v":7},{"t":81.5,"c":"Jz","v":-6},{"t":82,"c":"Jz","v":5},{"t":82.5,"c":"Jz","v":-7},{"t":83,"c":"Jz","v":6},{"t":83.5,"c":"Jz","v":-6},{"t":84,"c":"Jz","v":5},{"t":84.5,"c":"Jz","v":-5},{"t":85,"c":"Jz","v":4.5},{"t":85.5,"c":"Jz","v":-6},{"t":86,"c":"Jz","v":5},{"t":86.5,"c":"Jz","v":-5},{"t":87,"c":"Jz","v":4.5},{"t":87.5,"c":"Jz","v":-4.5},{"t":88,"c":"Jz","v":5},{"t":88.5,"c":"Jz","v":-5},{"t":89,"c":"Jz","v":6},{"t":89.5,"c":"Jz","v":-6},{"t":90,"c":"Jz","v":7},{"t":90.5,"c":"Jz","v":-9},{"t":91,"c":"Jz","v":8},{"t":91.5,"c":"Jz","v":-8},{"t":92,"c":"Jz","v":6},{"t":92.5,"c":"Jz","v":-7},{"t":93,"c":"Jz","v":5},{"t":93.5,"c":"Jz","v":-5},{"t":94,"c":"Jz","v":4},{"t":94.5,"c":"Jz","v":-5},{"t":95,"c":"Jz","v":5},{"t":95.5,"c":"Jz","v":-4.5},{"t":96,"c":"Jz","v":4.5},{"t":96.5,"c":"Jz","v":-5},{"t":97,"c":"Jz","v":6},{"t":97.5,"c":"Jz","v":-7},{"t":98,"c":"Jz","v":10},{"t":98.5,"c":"Jz","v":-10},{"t":99,"c":"Jz","v":12},{"t":99.5,"c":"Jz","v":-15.7},{"t":100,"c":"Jz","v":9},{"t":100.5,"c":"Jz","v":-11},{"t":101,"c":"Jz","v":7},{"t":101.5,"c":"Jz","v":-9},{"t":102,"c":"Jz","v":5},{"t":102.5,"c":"Jz","v":-6},{"t":103,"c":"Jz","v":4.5},{"t":103.5,"c":"Jz","v":-5},{"t":104,"c":"Jz","v":5},{"t":104.5,"c":"Jz","v":-5},{"t":105,"c":"Jz","v":4},{"t":105.5,"c":"Jz","v":-6},{"t":106,"c":"Jz","v":11.8},{"t":106.5,"c":"Jz","v":-9},{"t":107,"c":"Jz","v":14},{"t":107.5,"c":"Jz","v":-16},{"t":107.8,"c":"Jz","v":39.9},{"t":108.1,"c":"Jz","v":-28},{"t":108.5,"c":"Jz","v":15},{"t":109,"c":"Jz","v":-14},{"t":109.5,"c":"Jz","v":17},{"t":110,"c":"Jz","v":-18},{"t":110.5,"c":"Jz","v":16},{"t":111,"c":"Jz","v":24.7},{"t":111.5,"c":"Jz","v":-20},{"t":112,"c":"Jz","v":16},{"t":112.5,"c":"Jz","v":-13},{"t":113,"c":"Jz","v":18},{"t":113.5,"c":"Jz","v":-21},{"t":114,"c":"Jz","v":14},{"t":114.5,"c":"Jz","v":-15},{"t":115,"c":"Jz","v":19},{"t":115.5,"c":"Jz","v":-17},{"t":116,"c":"Jz","v":15},{"t":116.5,"c":"Jz","v":-20},{"t":117,"c":"Jz","v":17},{"t":117.5,"c":"Jz","v":-14},{"t":118,"c":"Jz","v":13},{"t":118.5,"c":"Jz","v":-18},{"t":119,"c":"Jz","v":19},{"t":119.5,"c":"Jz","v":-22},{"t":120,"c":"Jz","v":16}
],
"fgm": [
{"t":0,"c":"Bx GSE","v":-0.6},{"t":0.1,"c":"Bx GSE","v":-3.1},{"t":0.3,"c":"Bx GSE","v":-2.0},{"t":1,"c":"Bx GSE","v":-2.3},{"t":2,"c":"Bx GSE","v":-2.0},{"t":3,"c":"Bx GSE","v":-2.2},{"t":4,"c":"Bx GSE","v":-2.0},{"t":5,"c":"Bx GSE","v":-2.1},{"t":6,"c":"Bx GSE","v":-1.9},{"t":7,"c":"Bx GSE","v":-2.0},{"t":8,"c":"Bx GSE","v":-1.8},{"t":8.7,"c":"Bx GSE","v":-2.3},{"t":9.5,"c":"Bx GSE","v":-1.9},{"t":10.2,"c":"Bx GSE","v":-1.7},{"t":11.2,"c":"Bx GSE","v":-1.5},{"t":12,"c":"Bx GSE","v":-1.8},{"t":12.6,"c":"Bx GSE","v":-2.2},{"t":13.2,"c":"Bx GSE","v":-1.9},{"t":13.6,"c":"Bx GSE","v":-2.7},{"t":14.2,"c":"Bx GSE","v":-2.2},{"t":15,"c":"Bx GSE","v":-2.9},{"t":15.7,"c":"Bx GSE","v":-3.2},{"t":16.3,"c":"Bx GSE","v":-2.6},{"t":17,"c":"Bx GSE","v":-3.0},{"t":17.8,"c":"Bx GSE","v":-3.0},{"t":18.6,"c":"Bx GSE","v":-2.7},{"t":19.6,"c":"Bx GSE","v":-2.5},{"t":20.3,"c":"Bx GSE","v":-2.6},{"t":21,"c":"Bx GSE","v":-2.0},{"t":21.8,"c":"Bx GSE","v":-1.6},{"t":22.7,"c":"Bx GSE","v":-1.3},{"t":23.5,"c":"Bx GSE","v":-1.5},{"t":24.5,"c":"Bx GSE","v":-1.6},{"t":25.5,"c":"Bx GSE","v":-2.0},{"t":26.3,"c":"Bx GSE","v":-2.1},{"t":26.9,"c":"Bx GSE","v":-2.4},{"t":27.5,"c":"Bx GSE","v":-2.2},{"t":28.5,"c":"Bx GSE","v":-2.3},{"t":29.5,"c":"Bx GSE","v":-2.1},{"t":30.3,"c":"Bx GSE","v":-2.3},{"t":31.2,"c":"Bx GSE","v":-2.1},{"t":32,"c":"Bx GSE","v":-2.2},{"t":32.8,"c":"Bx GSE","v":-2.4},{"t":33.6,"c":"Bx GSE","v":-2.5},{"t":34.5,"c":"Bx GSE","v":-2.9},{"t":35.4,"c":"Bx GSE","v":-3.3},{"t":36.2,"c":"Bx GSE","v":-2.9},{"t":37.2,"c":"Bx GSE","v":-2.8},{"t":38,"c":"Bx GSE","v":-2.9},{"t":39,"c":"Bx GSE","v":-2.7},{"t":39.8,"c":"Bx GSE","v":-3.0},{"t":40.8,"c":"Bx GSE","v":-3.0},{"t":41.6,"c":"Bx GSE","v":-2.9},{"t":42.4,"c":"Bx GSE","v":-3.1},{"t":43.2,"c":"Bx GSE","v":-3.2},{"t":43.7,"c":"Bx GSE","v":-2.7},{"t":44.1,"c":"Bx GSE","v":-3.5},{"t":44.6,"c":"Bx GSE","v":-2.9},{"t":45.3,"c":"Bx GSE","v":-2.6},{"t":46,"c":"Bx GSE","v":-2.3},{"t":46.3,"c":"Bx GSE","v":-1.9},{"t":46.8,"c":"Bx GSE","v":-1.2},{"t":47.2,"c":"Bx GSE","v":-0.6},{"t":47.8,"c":"Bx GSE","v":0.3},{"t":48.3,"c":"Bx GSE","v":-0.5},{"t":49,"c":"Bx GSE","v":2.1},{"t":49.6,"c":"Bx GSE","v":-0.2},{"t":50.2,"c":"Bx GSE","v":-0.9},{"t":51.1,"c":"Bx GSE","v":-1.3},{"t":51.6,"c":"Bx GSE","v":0.5},{"t":52,"c":"Bx GSE","v":1.8},{"t":52.6,"c":"Bx GSE","v":2.6},{"t":53.2,"c":"Bx GSE","v":3.0},{"t":53.9,"c":"Bx GSE","v":3.6},{"t":54.3,"c":"Bx GSE","v":2.8},{"t":54.8,"c":"Bx GSE","v":2.0},{"t":55.2,"c":"Bx GSE","v":1.2},{"t":55.7,"c":"Bx GSE","v":0.4},{"t":56.3,"c":"Bx GSE","v":1.6},{"t":57.2,"c":"Bx GSE","v":2.6},{"t":57.8,"c":"Bx GSE","v":2.0},{"t":58.4,"c":"Bx GSE","v":2.4},{"t":59,"c":"Bx GSE","v":2.0},{"t":59.8,"c":"Bx GSE","v":2.6},{"t":60.5,"c":"Bx GSE","v":2.5},{"t":61.4,"c":"Bx GSE","v":2.5},{"t":62.2,"c":"Bx GSE","v":2.1},{"t":63,"c":"Bx GSE","v":2.6},{"t":63.5,"c":"Bx GSE","v":2.6},{"t":64.2,"c":"Bx GSE","v":2.0},{"t":65,"c":"Bx GSE","v":3.0},{"t":65.5,"c":"Bx GSE","v":7.2},{"t":65.8,"c":"Bx GSE","v":4.5},{"t":66.3,"c":"Bx GSE","v":3.0},{"t":66.8,"c":"Bx GSE","v":3.5},{"t":67.5,"c":"Bx GSE","v":4.6},{"t":68,"c":"Bx GSE","v":3.8},{"t":68.6,"c":"Bx GSE","v":4.0},{"t":69.3,"c":"Bx GSE","v":3.2},{"t":70.2,"c":"Bx GSE","v":3.0},{"t":71.1,"c":"Bx GSE","v":2.96},{"t":72,"c":"Bx GSE","v":3.2},{"t":72.8,"c":"Bx GSE","v":3.4},{"t":73.5,"c":"Bx GSE","v":3.3},{"t":74.3,"c":"Bx GSE","v":2.9},{"t":75.3,"c":"Bx GSE","v":3.0},{"t":76.2,"c":"Bx GSE","v":3.5},{"t":77.2,"c":"Bx GSE","v":4.15},{"t":78.2,"c":"Bx GSE","v":3.7},{"t":79,"c":"Bx GSE","v":3.6},{"t":80,"c":"Bx GSE","v":3.3},{"t":80.6,"c":"Bx GSE","v":4.1},{"t":81.3,"c":"Bx GSE","v":4.0},{"t":82.3,"c":"Bx GSE","v":3.6},{"t":83.2,"c":"Bx GSE","v":3.3},{"t":83.8,"c":"Bx GSE","v":3.8},{"t":84.4,"c":"Bx GSE","v":4.5},{"t":85.2,"c":"Bx GSE","v":3.9},{"t":86,"c":"Bx GSE","v":3.7},{"t":86.8,"c":"Bx GSE","v":3.6},{"t":87.8,"c":"Bx GSE","v":3.4},{"t":88.6,"c":"Bx GSE","v":3.6},{"t":89.3,"c":"Bx GSE","v":3.5},{"t":90.2,"c":"Bx GSE","v":3.8},{"t":91,"c":"Bx GSE","v":3.2},{"t":92,"c":"Bx GSE","v":2.6},{"t":92.8,"c":"Bx GSE","v":3.1},{"t":93.5,"c":"Bx GSE","v":3.1},{"t":94.3,"c":"Bx GSE","v":3.0},{"t":95.3,"c":"Bx GSE","v":3.3},{"t":96.3,"c":"Bx GSE","v":3.1},{"t":97.7,"c":"Bx GSE","v":3.1},{"t":98.3,"c":"Bx GSE","v":2.8},{"t":98.8,"c":"Bx GSE","v":2.0},{"t":99.3,"c":"Bx GSE","v":0.5},{"t":99.9,"c":"Bx GSE","v":-1.3},{"t":100.3,"c":"Bx GSE","v":0.8},{"t":100.8,"c":"Bx GSE","v":1.8},{"t":101.5,"c":"Bx GSE","v":1.6},{"t":102.2,"c":"Bx GSE","v":2.5},{"t":103.1,"c":"Bx GSE","v":2.0},{"t":103.7,"c":"Bx GSE","v":1.5},{"t":104.4,"c":"Bx GSE","v":2.5},{"t":105.3,"c":"Bx GSE","v":2.6},{"t":106.2,"c":"Bx GSE","v":2.8},{"t":106.9,"c":"Bx GSE","v":3.1},{"t":107.5,"c":"Bx GSE","v":3.5},{"t":108.1,"c":"Bx GSE","v":2.8},{"t":108.9,"c":"Bx GSE","v":2.5},{"t":109.6,"c":"Bx GSE","v":3.0},{"t":110.4,"c":"Bx GSE","v":2.8},{"t":110.7,"c":"Bx GSE","v":1.5},{"t":111,"c":"Bx GSE","v":1.1},{"t":111.5,"c":"Bx GSE","v":-0.3},{"t":112,"c":"Bx GSE","v":-0.9},{"t":112.7,"c":"Bx GSE","v":-1.6},{"t":113.3,"c":"Bx GSE","v":-0.8},{"t":114,"c":"Bx GSE","v":-1.3},{"t":114.7,"c":"Bx GSE","v":-0.9},{"t":115.4,"c":"Bx GSE","v":-1.1},{"t":116.2,"c":"Bx GSE","v":-1.6},{"t":116.7,"c":"Bx GSE","v":-0.5},{"t":117.1,"c":"Bx GSE","v":0.4},{"t":117.7,"c":"Bx GSE","v":-0.2},{"t":118.3,"c":"Bx GSE","v":-0.6},{"t":118.8,"c":"Bx GSE","v":-0.2},{"t":119.2,"c":"Bx GSE","v":0.1},{"t":119.6,"c":"Bx GSE","v":-0.9},{"t":119.9,"c":"Bx GSE","v":-0.6},
{"t":0,"c":"By GSE","v":1.4},{"t":0.1,"c":"By GSE","v":7.6},{"t":0.4,"c":"By GSE","v":6.0},{"t":0.8,"c":"By GSE","v":6.6},{"t":1.3,"c":"By GSE","v":5.9},{"t":2,"c":"By GSE","v":6.3},{"t":2.7,"c":"By GSE","v":6.2},{"t":3.5,"c":"By GSE","v":5.9},{"t":4.3,"c":"By GSE","v":6.0},{"t":5,"c":"By GSE","v":5.7},{"t":5.7,"c":"By GSE","v":5.85},{"t":6.5,"c":"By GSE","v":5.5},{"t":7.3,"c":"By GSE","v":5.6},{"t":8.2,"c":"By GSE","v":5.3},{"t":8.8,"c":"By GSE","v":5.0},{"t":9.1,"c":"By GSE","v":5.0},{"t":9.6,"c":"By GSE","v":6.0},{"t":10.3,"c":"By GSE","v":6.9},{"t":11.2,"c":"By GSE","v":7.2},{"t":11.8,"c":"By GSE","v":6.8},{"t":12.4,"c":"By GSE","v":6.2},{"t":12.9,"c":"By GSE","v":5.5},{"t":13.3,"c":"By GSE","v":4.0},{"t":13.6,"c":"By GSE","v":3.8},{"t":14,"c":"By GSE","v":5.5},{"t":14.5,"c":"By GSE","v":6.9},{"t":15,"c":"By GSE","v":6.5},{"t":15.6,"c":"By GSE","v":5.8},{"t":16.3,"c":"By GSE","v":6.3},{"t":16.9,"c":"By GSE","v":6.9},{"t":17.5,"c":"By GSE","v":6.4},{"t":18.2,"c":"By GSE","v":6.2},{"t":19.1,"c":"By GSE","v":7.2},{"t":19.8,"c":"By GSE","v":7.4},{"t":20.5,"c":"By GSE","v":7.9},{"t":20.9,"c":"By GSE","v":8.2},{"t":21.5,"c":"By GSE","v":7.9},{"t":22.1,"c":"By GSE","v":7.8},{"t":23,"c":"By GSE","v":7.5},{"t":23.9,"c":"By GSE","v":7.2},{"t":25,"c":"By GSE","v":7.0},{"t":26.3,"c":"By GSE","v":6.9},{"t":27.2,"c":"By GSE","v":6.7},{"t":28.1,"c":"By GSE","v":6.5},{"t":28.7,"c":"By GSE","v":6.6},{"t":29.5,"c":"By GSE","v":7.0},{"t":30.3,"c":"By GSE","v":6.6},{"t":31.2,"c":"By GSE","v":6.3},{"t":32.4,"c":"By GSE","v":5.85},{"t":33.5,"c":"By GSE","v":5.5},{"t":34.8,"c":"By GSE","v":5.2},{"t":35.8,"c":"By GSE","v":4.9},{"t":36.8,"c":"By GSE","v":4.5},{"t":37.5,"c":"By GSE","v":4.15},{"t":38.3,"c":"By GSE","v":4.8},{"t":39.6,"c":"By GSE","v":5.2},{"t":40.8,"c":"By GSE","v":5.3},{"t":42.1,"c":"By GSE","v":5.3},{"t":43.2,"c":"By GSE","v":5.4},{"t":43.9,"c":"By GSE","v":5.2},{"t":44.5,"c":"By GSE","v":4.15},{"t":45.1,"c":"By GSE","v":3.1},{"t":45.7,"c":"By GSE","v":3.9},{"t":46.3,"c":"By GSE","v":4.1},{"t":46.8,"c":"By GSE","v":0.4},{"t":47,"c":"By GSE","v":-2.6},{"t":47.2,"c":"By GSE","v":2.8},{"t":47.8,"c":"By GSE","v":-0.6},{"t":48.3,"c":"By GSE","v":1.4},{"t":48.7,"c":"By GSE","v":-1.0},{"t":49,"c":"By GSE","v":-3.7},{"t":49.3,"c":"By GSE","v":-1.5},{"t":49.6,"c":"By GSE","v":1.1},{"t":50.5,"c":"By GSE","v":3.4},{"t":51.1,"c":"By GSE","v":3.1},{"t":51.4,"c":"By GSE","v":0.0},{"t":51.7,"c":"By GSE","v":-6.4},{"t":52.3,"c":"By GSE","v":-6.2},{"t":52.9,"c":"By GSE","v":-6.1},{"t":53.4,"c":"By GSE","v":-5.2},{"t":53.9,"c":"By GSE","v":-4.0},{"t":54.2,"c":"By GSE","v":-4.8},{"t":54.5,"c":"By GSE","v":-6.1},{"t":55.4,"c":"By GSE","v":-6.7},{"t":56.3,"c":"By GSE","v":-6.5},{"t":57.7,"c":"By GSE","v":-6.3},{"t":59,"c":"By GSE","v":-5.9},{"t":60.2,"c":"By GSE","v":-5.7},{"t":61.4,"c":"By GSE","v":-6.0},{"t":62.3,"c":"By GSE","v":-6.2},{"t":63.2,"c":"By GSE","v":-6.4},{"t":63.8,"c":"By GSE","v":-8.1},{"t":64.3,"c":"By GSE","v":-6.8},{"t":65,"c":"By GSE","v":-6.0},{"t":65.5,"c":"By GSE","v":-8.1},{"t":66.2,"c":"By GSE","v":-7.6},{"t":66.8,"c":"By GSE","v":-7.4},{"t":67.4,"c":"By GSE","v":-8.2},{"t":68,"c":"By GSE","v":-8.8},{"t":69,"c":"By GSE","v":-8.5},{"t":69.9,"c":"By GSE","v":-8.3},{"t":70.8,"c":"By GSE","v":-8.0},{"t":71.7,"c":"By GSE","v":-7.8},{"t":72.5,"c":"By GSE","v":-7.6},{"t":73.2,"c":"By GSE","v":-7.3},{"t":74.2,"c":"By GSE","v":-7.7},{"t":75.3,"c":"By GSE","v":-7.9},{"t":76.2,"c":"By GSE","v":-8.0},{"t":77.2,"c":"By GSE","v":-8.1},{"t":78,"c":"By GSE","v":-8.3},{"t":79,"c":"By GSE","v":-8.5},{"t":79.8,"c":"By GSE","v":-7.8},{"t":80.8,"c":"By GSE","v":-7.4},{"t":81.7,"c":"By GSE","v":-7.7},{"t":82.6,"c":"By GSE","v":-7.9},{"t":83.5,"c":"By GSE","v":-7.6},{"t":84.4,"c":"By GSE","v":-7.3},{"t":85.3,"c":"By GSE","v":-7.6},{"t":86.2,"c":"By GSE","v":-7.8},{"t":87.2,"c":"By GSE","v":-7.5},{"t":88.2,"c":"By GSE","v":-7.4},{"t":89.3,"c":"By GSE","v":-7.3},{"t":90.5,"c":"By GSE","v":-7.0},{"t":91.3,"c":"By GSE","v":-6.6},{"t":92,"c":"By GSE","v":-6.4},{"t":92.7,"c":"By GSE","v":-6.8},{"t":93.5,"c":"By GSE","v":-6.9},{"t":94.5,"c":"By GSE","v":-7.0},{"t":95.3,"c":"By GSE","v":-7.0},{"t":96.5,"c":"By GSE","v":-7.2},{"t":97.5,"c":"By GSE","v":-7.4},{"t":98.2,"c":"By GSE","v":-7.5},{"t":98.7,"c":"By GSE","v":-6.9},{"t":99.2,"c":"By GSE","v":-6.4},{"t":99.6,"c":"By GSE","v":-4.5},{"t":99.9,"c":"By GSE","v":-3.3},{"t":100.3,"c":"By GSE","v":-4.6},{"t":100.8,"c":"By GSE","v":-5.4},{"t":101.6,"c":"By GSE","v":-5.0},{"t":102.3,"c":"By GSE","v":-5.3},{"t":103.1,"c":"By GSE","v":-4.7},{"t":103.8,"c":"By GSE","v":-5.4},{"t":104.4,"c":"By GSE","v":-5.7},{"t":105.2,"c":"By GSE","v":-5.1},{"t":106.2,"c":"By GSE","v":-4.7},{"t":106.7,"c":"By GSE","v":-4.3},{"t":107.1,"c":"By GSE","v":-4.0},{"t":107.5,"c":"By GSE","v":-1.3},{"t":107.7,"c":"By GSE","v":-4.5},{"t":107.8,"c":"By GSE","v":-8.4},{"t":108.2,"c":"By GSE","v":-7.2},{"t":108.5,"c":"By GSE","v":-6.7},{"t":109.2,"c":"By GSE","v":-7.0},{"t":109.8,"c":"By GSE","v":-7.3},{"t":110.3,"c":"By GSE","v":-6.7},{"t":110.7,"c":"By GSE","v":-4.7},{"t":111.1,"c":"By GSE","v":-1.5},{"t":111.6,"c":"By GSE","v":1.1},{"t":111.9,"c":"By GSE","v":-0.6},{"t":112.3,"c":"By GSE","v":1.5},{"t":112.6,"c":"By GSE","v":3.5},{"t":113.1,"c":"By GSE","v":0.4},{"t":113.6,"c":"By GSE","v":1.8},{"t":114.2,"c":"By GSE","v":2.8},{"t":114.7,"c":"By GSE","v":4.5},{"t":115.3,"c":"By GSE","v":2.8},{"t":115.9,"c":"By GSE","v":3.5},{"t":116.2,"c":"By GSE","v":1.4},{"t":116.7,"c":"By GSE","v":-3.7},{"t":117.2,"c":"By GSE","v":-3.3},{"t":117.7,"c":"By GSE","v":-3.7},{"t":118.3,"c":"By GSE","v":-4.2},{"t":118.9,"c":"By GSE","v":-5.7},{"t":119.2,"c":"By GSE","v":-3.3},{"t":119.6,"c":"By GSE","v":-1.5},{"t":119.8,"c":"By GSE","v":-0.6},{"t":119.95,"c":"By GSE","v":-1.8},
{"t":0,"c":"Bz GSE","v":8.2},{"t":0.1,"c":"Bz GSE","v":3.1},{"t":0.4,"c":"Bz GSE","v":4.9},{"t":0.8,"c":"Bz GSE","v":4.15},{"t":1.3,"c":"Bz GSE","v":3.1},{"t":2,"c":"Bz GSE","v":4.2},{"t":2.7,"c":"Bz GSE","v":4.8},{"t":3.3,"c":"Bz GSE","v":4.0},{"t":3.9,"c":"Bz GSE","v":3.8},{"t":4.8,"c":"Bz GSE","v":4.4},{"t":5.75,"c":"Bz GSE","v":4.3},{"t":6.8,"c":"Bz GSE","v":3.9},{"t":7.8,"c":"Bz GSE","v":3.6},{"t":8.6,"c":"Bz GSE","v":4.1},{"t":9.4,"c":"Bz GSE","v":4.5},{"t":10,"c":"Bz GSE","v":3.6},{"t":10.5,"c":"Bz GSE","v":3.1},{"t":11.4,"c":"Bz GSE","v":3.4},{"t":12.4,"c":"Bz GSE","v":3.4},{"t":13,"c":"Bz GSE","v":3.9},{"t":13.6,"c":"Bz GSE","v":4.5},{"t":14.5,"c":"Bz GSE","v":3.3},{"t":15.4,"c":"Bz GSE","v":4.8},{"t":16.5,"c":"Bz GSE","v":4.6},{"t":17.8,"c":"Bz GSE","v":4.95},{"t":18.7,"c":"Bz GSE","v":5.2},{"t":19.6,"c":"Bz GSE","v":5.5},{"t":20,"c":"Bz GSE","v":4.5},{"t":20.5,"c":"Bz GSE","v":2.8},{"t":21.4,"c":"Bz GSE","v":2.1},{"t":22,"c":"Bz GSE","v":2.8},{"t":22.7,"c":"Bz GSE","v":3.4},{"t":23.8,"c":"Bz GSE","v":3.5},{"t":25,"c":"Bz GSE","v":3.8},{"t":25.7,"c":"Bz GSE","v":4.3},{"t":26.3,"c":"Bz GSE","v":4.8},{"t":27.5,"c":"Bz GSE","v":5.85},{"t":28.4,"c":"Bz GSE","v":5.2},{"t":29.2,"c":"Bz GSE","v":4.8},{"t":30.5,"c":"Bz GSE","v":5.85},{"t":31.5,"c":"Bz GSE","v":5.5},{"t":32.4,"c":"Bz GSE","v":6.2},{"t":33.9,"c":"Bz GSE","v":5.2},{"t":35,"c":"Bz GSE","v":5.9},{"t":36,"c":"Bz GSE","v":6.5},{"t":37.2,"c":"Bz GSE","v":7.0},{"t":38.4,"c":"Bz GSE","v":6.2},{"t":39.6,"c":"Bz GSE","v":6.0},{"t":40.8,"c":"Bz GSE","v":5.85},{"t":42,"c":"Bz GSE","v":5.6},{"t":43.2,"c":"Bz GSE","v":5.85},{"t":44.5,"c":"Bz GSE","v":5.2},{"t":45.7,"c":"Bz GSE","v":4.5},{"t":46.8,"c":"Bz GSE","v":4.8},{"t":48.1,"c":"Bz GSE","v":4.15},{"t":49.2,"c":"Bz GSE","v":4.8},{"t":50.2,"c":"Bz GSE","v":3.8},{"t":50.5,"c":"Bz GSE","v":5.5},{"t":51.1,"c":"Bz GSE","v":3.4},{"t":51.4,"c":"Bz GSE","v":1.5},{"t":51.7,"c":"Bz GSE","v":-0.6},{"t":52.3,"c":"Bz GSE","v":0.5},{"t":52.9,"c":"Bz GSE","v":-0.3},{"t":53.9,"c":"Bz GSE","v":1.4},{"t":54.8,"c":"Bz GSE","v":0.8},{"t":55.1,"c":"Bz GSE","v":-0.8},{"t":55.4,"c":"Bz GSE","v":-2.0},{"t":56,"c":"Bz GSE","v":-0.6},{"t":56.6,"c":"Bz GSE","v":0.1},{"t":57.7,"c":"Bz GSE","v":1.1},{"t":58.5,"c":"Bz GSE","v":0.4},{"t":59.5,"c":"Bz GSE","v":-0.3},{"t":60.2,"c":"Bz GSE","v":0.8},{"t":60.5,"c":"Bz GSE","v":1.4},{"t":61.4,"c":"Bz GSE","v":-0.3},{"t":62.3,"c":"Bz GSE","v":-0.6},{"t":62.7,"c":"Bz GSE","v":-2.5},{"t":62.9,"c":"Bz GSE","v":-4.0},{"t":63.3,"c":"Bz GSE","v":-3.5},{"t":63.5,"c":"Bz GSE","v":-2.3},{"t":63.7,"c":"Bz GSE","v":2.0},{"t":63.9,"c":"Bz GSE","v":5.5},{"t":64.3,"c":"Bz GSE","v":5.0},{"t":64.7,"c":"Bz GSE","v":4.5},{"t":65,"c":"Bz GSE","v":7.2},{"t":65.2,"c":"Bz GSE","v":-0.3},{"t":65.5,"c":"Bz GSE","v":3.5},{"t":65.9,"c":"Bz GSE","v":2.8},{"t":66.8,"c":"Bz GSE","v":1.8},{"t":67.4,"c":"Bz GSE","v":1.0},{"t":68,"c":"Bz GSE","v":0.1},{"t":69.3,"c":"Bz GSE","v":0.8},{"t":70.2,"c":"Bz GSE","v":-0.6},{"t":71.1,"c":"Bz GSE","v":-1.3},{"t":71.8,"c":"Bz GSE","v":-0.3},{"t":72.6,"c":"Bz GSE","v":1.5},{"t":73.5,"c":"Bz GSE","v":2.8},{"t":74.7,"c":"Bz GSE","v":1.1},{"t":75.9,"c":"Bz GSE","v":2.1},{"t":77.2,"c":"Bz GSE","v":2.8},{"t":78.4,"c":"Bz GSE","v":3.4},{"t":79.3,"c":"Bz GSE","v":2.1},{"t":79.6,"c":"Bz GSE","v":0.0},{"t":79.9,"c":"Bz GSE","v":-3.0},{"t":80.3,"c":"Bz GSE","v":0.8},{"t":81,"c":"Bz GSE","v":0.0},{"t":81.7,"c":"Bz GSE","v":-0.6},{"t":82.4,"c":"Bz GSE","v":0.3},{"t":83.2,"c":"Bz GSE","v":0.1},{"t":84.1,"c":"Bz GSE","v":2.8},{"t":85,"c":"Bz GSE","v":-0.6},{"t":85.9,"c":"Bz GSE","v":2.5},{"t":87,"c":"Bz GSE","v":2.6},{"t":88.1,"c":"Bz GSE","v":2.6},{"t":89.3,"c":"Bz GSE","v":3.1},{"t":90.2,"c":"Bz GSE","v":2.1},{"t":91,"c":"Bz GSE","v":4.0},{"t":91.7,"c":"Bz GSE","v":5.5},{"t":92.3,"c":"Bz GSE","v":4.5},{"t":93,"c":"Bz GSE","v":4.15},{"t":94.2,"c":"Bz GSE","v":5.0},{"t":95.3,"c":"Bz GSE","v":5.5},{"t":96.5,"c":"Bz GSE","v":5.6},{"t":97.7,"c":"Bz GSE","v":5.85},{"t":98.6,"c":"Bz GSE","v":6.5},{"t":99.5,"c":"Bz GSE","v":8.2},{"t":99.9,"c":"Bz GSE","v":7.2},{"t":100.4,"c":"Bz GSE","v":6.3},{"t":101,"c":"Bz GSE","v":5.5},{"t":101.8,"c":"Bz GSE","v":5.9},{"t":102.6,"c":"Bz GSE","v":6.2},{"t":103.5,"c":"Bz GSE","v":6.0},{"t":104.4,"c":"Bz GSE","v":6.0},{"t":105.2,"c":"Bz GSE","v":6.3},{"t":105.9,"c":"Bz GSE","v":6.5},{"t":106.4,"c":"Bz GSE","v":7.0},{"t":106.8,"c":"Bz GSE","v":7.9},{"t":107.2,"c":"Bz GSE","v":7.8},{"t":107.5,"c":"Bz GSE","v":8.6},{"t":107.7,"c":"Bz GSE","v":6.0},{"t":107.8,"c":"Bz GSE","v":4.15},{"t":108,"c":"Bz GSE","v":1.1},{"t":108.5,"c":"Bz GSE","v":1.0},{"t":108.9,"c":"Bz GSE","v":-0.3},{"t":109.5,"c":"Bz GSE","v":-2.65},{"t":110,"c":"Bz GSE","v":-1.4},{"t":110.4,"c":"Bz GSE","v":-0.6},{"t":110.7,"c":"Bz GSE","v":1.4},{"t":110.9,"c":"Bz GSE","v":-5.0},{"t":111,"c":"Bz GSE","v":-12.9},{"t":111.6,"c":"Bz GSE","v":-12.8},{"t":112.2,"c":"Bz GSE","v":-12.6},{"t":112.8,"c":"Bz GSE","v":-12.9},{"t":113.3,"c":"Bz GSE","v":-12.3},{"t":113.8,"c":"Bz GSE","v":-11.5},{"t":114.2,"c":"Bz GSE","v":-10.5},{"t":114.6,"c":"Bz GSE","v":-9.1},{"t":115,"c":"Bz GSE","v":-10.8},{"t":115.3,"c":"Bz GSE","v":-11.5},{"t":116,"c":"Bz GSE","v":-10.6},{"t":116.5,"c":"Bz GSE","v":-10.2},{"t":117.1,"c":"Bz GSE","v":-10.0},{"t":117.7,"c":"Bz GSE","v":-9.6},{"t":118.3,"c":"Bz GSE","v":-10.1},{"t":118.9,"c":"Bz GSE","v":-10.0},{"t":119.2,"c":"Bz GSE","v":-9.1},{"t":119.6,"c":"Bz GSE","v":-10.3},{"t":120,"c":"Bz GSE","v":-10.9}
]
},
"vconcat": [
{
 "width": 727, "height": 220,
 "encoding": {
  "x": {"field": "t", "type": "quantitative", "scale": {"domain": [-6, 126], "nice": false, "zero": false}, "axis": {"values": [0,15,30,45,60,75,90,105,120], "labels": false, "title": null}}
 },
 "layer": [
  {"data": {"name": "curlband"}, "transform": [{"filter": "datum.c === 'Jx'"}], "mark": {"type": "area", "color": "#0000ff", "clip": true},
   "encoding": {"y": {"field": "lo", "type": "quantitative", "scale": {"domain": [-36.1, 41], "nice": false, "zero": false}, "axis": {"values": [-20,0,20,40], "title": ["J", "[nA/m²]"]}}, "y2": {"field": "hi"}}},
  {"data": {"name": "curl"}, "transform": [{"filter": "datum.c === 'Jx'"}], "mark": {"type": "line", "clip": true, "strokeWidth": 1.4},
   "encoding": {"y": {"field": "v", "type": "quantitative", "scale": {"domain": [-36.1, 41], "nice": false, "zero": false}, "axis": {"values": [-20,0,20,40], "title": ["J", "[nA/m²]"]}},
    "color": {"field": "c", "type": "nominal", "scale": {"domain": ["Jx","Jy","Jz"], "range": ["#0000ff","#008000","#ff0000"]}, "legend": {"title": null, "orient": "none", "legendX": 811, "legendY": 56}}}},
  {"data": {"name": "curlband"}, "transform": [{"filter": "datum.c === 'Jy'"}], "mark": {"type": "area", "color": "#008000", "clip": true},
   "encoding": {"y": {"field": "lo", "type": "quantitative"}, "y2": {"field": "hi"}}},
  {"data": {"name": "curl"}, "transform": [{"filter": "datum.c === 'Jy'"}], "mark": {"type": "line", "clip": true, "strokeWidth": 1.4},
   "encoding": {"y": {"field": "v", "type": "quantitative"}, "color": {"field": "c", "type": "nominal"}}},
  {"data": {"name": "curlband"}, "transform": [{"filter": "datum.c === 'Jz'"}], "mark": {"type": "area", "color": "#ff0000", "clip": true},
   "encoding": {"y": {"field": "lo", "type": "quantitative"}, "y2": {"field": "hi"}}},
  {"data": {"name": "curl"}, "transform": [{"filter": "datum.c === 'Jz'"}], "mark": {"type": "line", "clip": true, "strokeWidth": 1.4},
   "encoding": {"y": {"field": "v", "type": "quantitative"}, "color": {"field": "c", "type": "nominal"}}}
 ]
},
{
 "width": 727, "height": 220,
 "data": {"name": "fgm"},
 "mark": {"type": "line", "clip": true, "strokeWidth": 1.6},
 "encoding": {
  "x": {"field": "t", "type": "quantitative", "scale": {"domain": [-6, 126], "nice": false, "zero": false}, "axis": {"values": [0,15,30,45,60,75,90,105,120], "labels": false, "title": null}},
  "y": {"field": "v", "type": "quantitative", "scale": {"domain": [-13.2, 9.2], "nice": false, "zero": false}, "axis": {"values": [-10,-5,0,5], "title": ["MMS1 FGM", "[nT]"]}},
  "color": {"field": "c", "type": "nominal", "scale": {"domain": ["Bx GSE","By GSE","Bz GSE"], "range": ["#0000ff","#008000","#ff0000"]}, "legend": {"title": null, "orient": "none", "legendX": 868, "legendY": 54}}
 }
},
{
 "width": 727, "height": 220,
 "data": {"name": "fgm"},
 "mark": {"type": "line", "clip": true, "strokeWidth": 1.6},
 "encoding": {
  "x": {"field": "t", "type": "quantitative", "scale": {"domain": [-6, 126], "nice": false, "zero": false}, "axis": {"values": [0,15,30,45,60,75,90,105,120], "labels": false, "title": null}},
  "y": {"field": "v", "type": "quantitative", "scale": {"domain": [-13.2, 9.2], "nice": false, "zero": false}, "axis": {"values": [-10,-5,0,5], "title": ["MMS2 FGM", "[nT]"]}},
  "color": {"field": "c", "type": "nominal", "scale": {"domain": ["Bx GSE","By GSE","Bz GSE"], "range": ["#0000ff","#008000","#ff0000"]}, "legend": {"title": null, "orient": "none", "legendX": 868, "legendY": 54}}
 }
},
{
 "width": 727, "height": 220,
 "data": {"name": "fgm"},
 "mark": {"type": "line", "clip": true, "strokeWidth": 1.6},
 "encoding": {
  "x": {"field": "t", "type": "quantitative", "scale": {"domain": [-6, 126], "nice": false, "zero": false}, "axis": {"values": [0,15,30,45,60,75,90,105,120], "labels": false, "title": null}},
  "y": {"field": "v", "type": "quantitative", "scale": {"domain": [-13.2, 9.2], "nice": false, "zero": false}, "axis": {"values": [-10,-5,0,5], "title": ["MMS3 FGM", "[nT]"]}},
  "color": {"field": "c", "type": "nominal", "scale": {"domain": ["Bx GSE","By GSE","Bz GSE"], "range": ["#0000ff","#008000","#ff0000"]}, "legend": {"title": null, "orient": "none", "legendX": 868, "legendY": 54}}
 }
},
{
 "width": 727, "height": 220,
 "data": {"name": "fgm"},
 "mark": {"type": "line", "clip": true, "strokeWidth": 1.6},
 "encoding": {
  "x": {"field": "t", "type": "quantitative", "scale": {"domain": [-6, 126], "nice": false, "zero": false}, "axis": {"values": [0,15,30,45,60,75,90,105,120], "labelExpr": "timeFormat(datetime(2020, 3, 20, 6, datum.value), '%H:%M')", "title": "2020-Apr-20", "titleAnchor": "end", "titleAlign": "right", "titlePadding": 6, "titleFontWeight": "normal"}},
  "y": {"field": "v", "type": "quantitative", "scale": {"domain": [-13.2, 9.2], "nice": false, "zero": false}, "axis": {"values": [-10,-5,0,5], "title": ["MMS4 FGM", "[nT]"]}},
  "color": {"field": "c", "type": "nominal", "scale": {"domain": ["Bx GSE","By GSE","Bz GSE"], "range": ["#0000ff","#008000","#ff0000"]}, "legend": {"title": null, "orient": "none", "legendX": 868, "legendY": 54}}
 }
}
]
}
